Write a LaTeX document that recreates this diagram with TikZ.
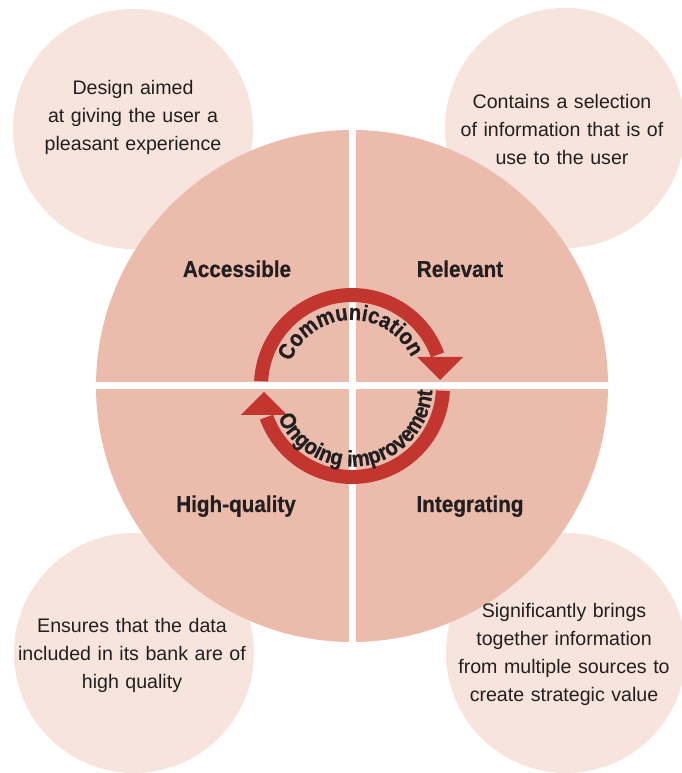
\documentclass[tikz,border=0pt]{standalone}
\usepackage{fontspec}
\setmainfont{Liberation Sans}
\newfontfamily\labelfont{Liberation Sans}[FakeStretch=0.9,FakeBold=0.6]
\usetikzlibrary{decorations.text}
\definecolor{bubble}{HTML}{F7E4DC}
\definecolor{disc}{HTML}{EBBCAB}
\definecolor{ringred}{HTML}{C3352F}
\definecolor{txt}{HTML}{231F20}
\tikzset{
  bubble/.style={circle, fill=bubble, minimum size=240pt, inner sep=0pt},
  desc/.style={text=txt, font=\fontsize{19.6}{28}\selectfont, align=center, text width=235pt, anchor=base, inner sep=0pt},
  quad/.style={text=txt, font=\labelfont\bfseries\fontsize{23}{28}\selectfont, anchor=base, inner sep=0pt},
  ringtext/.style={decorate, decoration={text along path, text align=center, text={|\labelfont\bfseries\fontsize{22.5}{23}\selectfont\color{txt}|#1}}}
}
\begin{document}
\begin{tikzpicture}[x=1pt,y=1pt]
\useasboundingbox (0,0) rectangle (681,773);
\node[bubble] (b1) at (133,644) {};
\node[bubble] (b2) at (565,645) {};
\node[bubble] (b3) at (134,120) {};
\node[bubble] (b4) at (566,120) {};
\node[circle, fill=disc, minimum size=512pt, inner sep=0pt] (disc) at (352,387) {};
\fill[white] (96,383.5) rectangle (608,390.5);
\fill[white] (348.5,131) rectangle (355.5,643);
\begin{scope}[shift={(352,387)}]
  \fill[ringred] (177:98) arc[start angle=177,end angle=20,radius=98] -- (20:84) arc[start angle=20,end angle=177,radius=84] -- cycle;
  \fill[ringred] (65,29) -- (111,29) -- (88,6) -- cycle;
  \fill[ringred] (-3:98) arc[start angle=-3,end angle=-160,radius=98] -- (-160:84) arc[start angle=-160,end angle=-3,radius=84] -- cycle;
  \fill[ringred] (-65,-29) -- (-111,-29) -- (-88,-6) -- cycle;
  \path[ringtext={Communication}] (162:66) arc[start angle=162,end angle=22,radius=66];
  \path[ringtext={Ongoing improvement}] (-170:80.5) arc[start angle=-170,end angle=10,radius=80.5];
\end{scope}
\node[quad] (acc) at (237,496) {Accessible};
\node[quad] (rel) at (460,496) {Relevant};
\node[quad] (hq) at (236,261) {High-quality};
\node[quad] (int) at (470,261) {Integrating};
\node[desc] (d1) at (133,678) {Design aimed\\at giving the user a\\pleasant experience};
\node[desc] (d2) at (562,664) {Contains a selection\\of information that is of\\use to the user};
\node[desc] (d3) at (132,140) {Ensures that the data\\included in its bank are of\\high quality};
\node[desc] (d4) at (564,155) {Significantly brings\\together information\\from multiple sources to\\create strategic value};
\end{tikzpicture}
\end{document}
